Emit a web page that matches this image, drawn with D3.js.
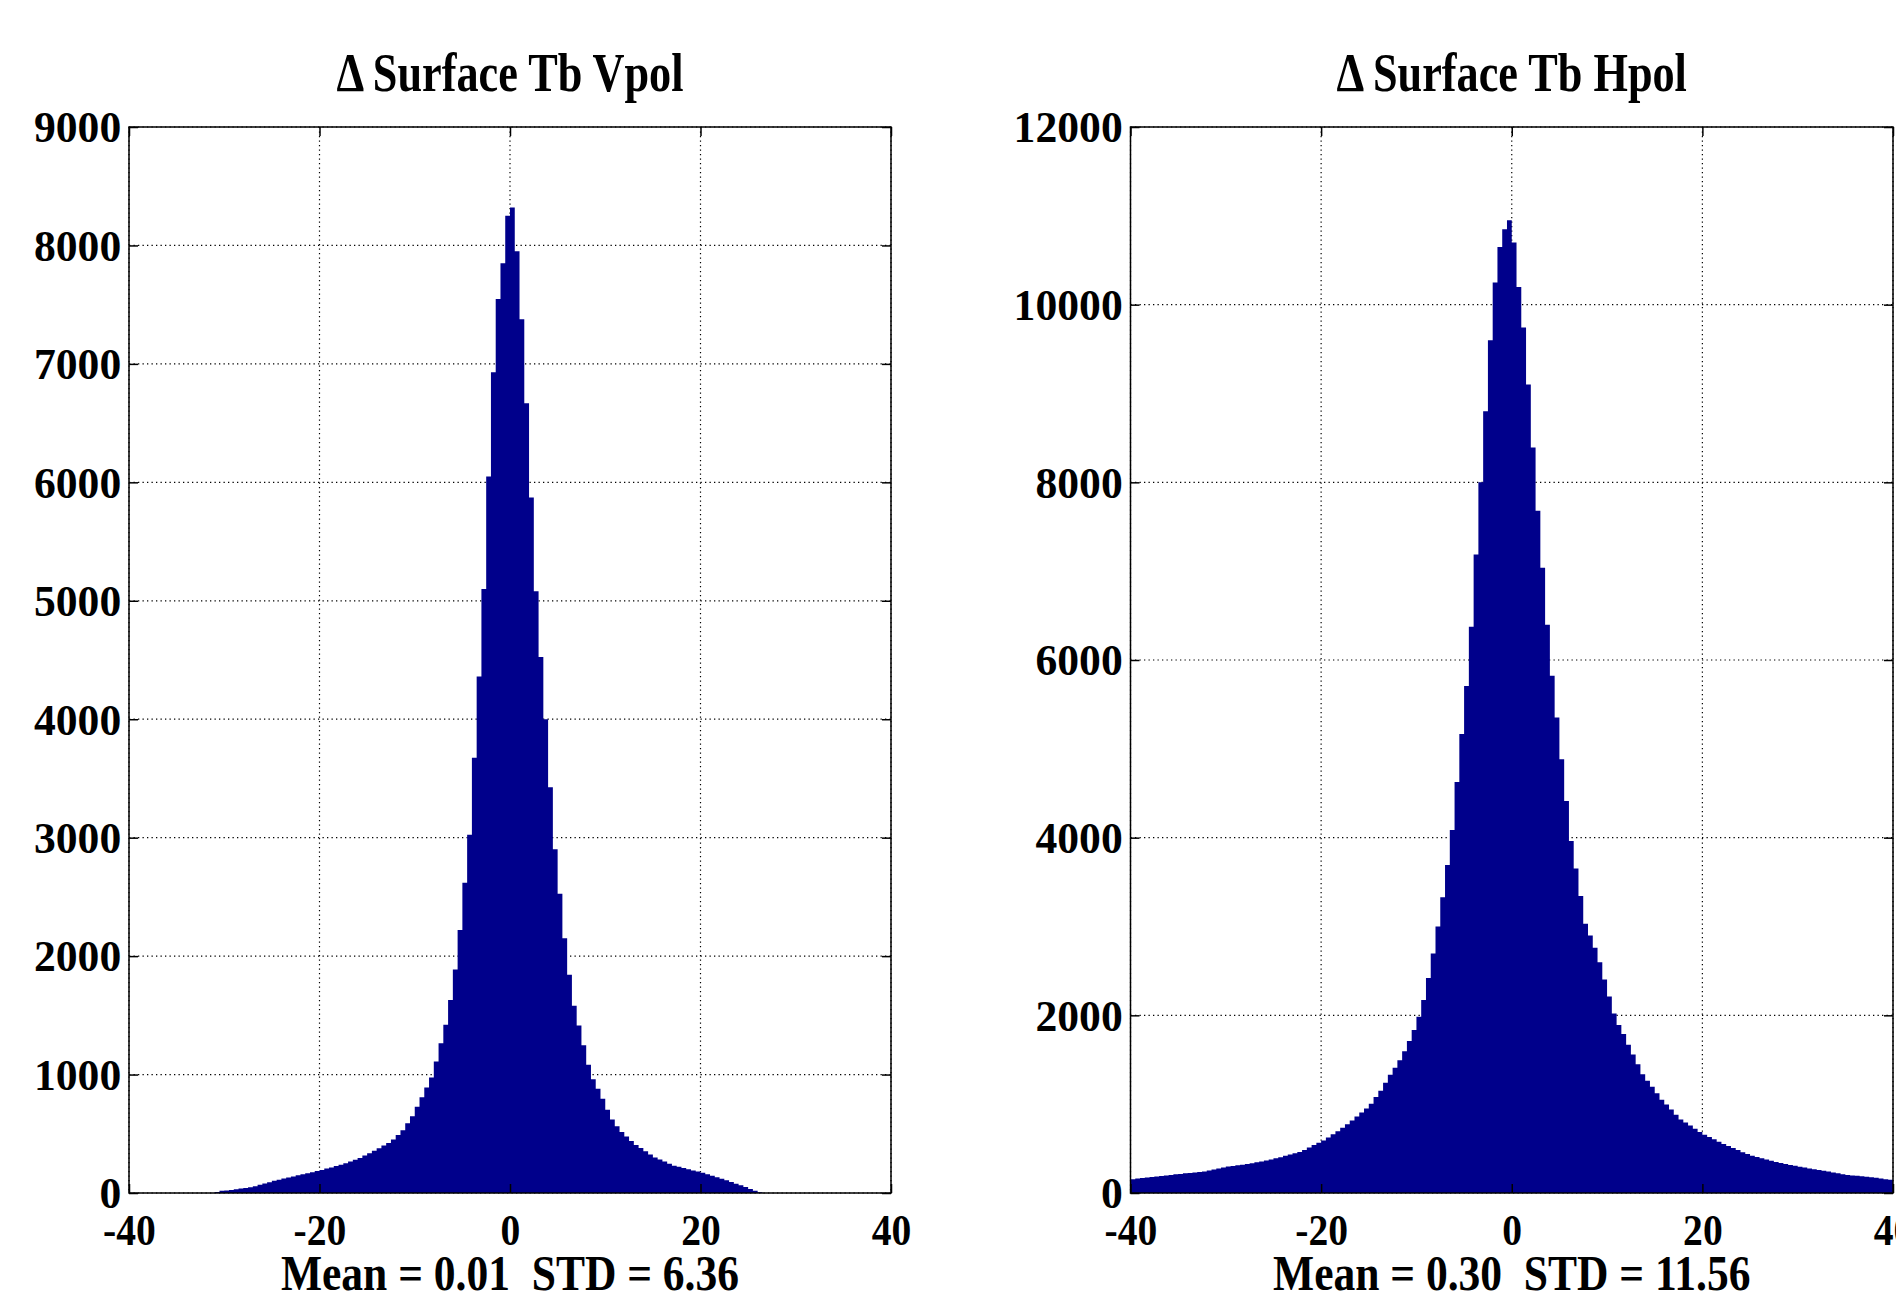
<!DOCTYPE html>
<html>
<head>
<meta charset="utf-8">
<script src="https://cdn.jsdelivr.net/npm/d3@7"></script>
<style>
  html, body { margin: 0; padding: 0; background: #fff; }
  svg { display: block; }
  text { font-family: "Liberation Serif", "Times New Roman", serif; font-weight: bold; fill: #000; white-space: pre; }
</style>
</head>
<body>
<div id="chart"></div>
<script>
// histogram bins, width 0.5
const binWidth = 0.5;

// Vpol: first bin starts at -31, counts up to 26.5, zero elsewhere
const vpolFrom = -31;
const vpolCounts = [
  8, 18, 21, 26, 32, 37, 43, 48, 58, 69,
  80, 91, 103, 112, 122, 131, 140, 149, 158, 167,
  176, 185, 195, 206, 216, 227, 238, 252, 266, 280,
  296, 316, 336, 356, 377, 400, 423, 452, 490, 530,
  588, 648, 728, 808, 890, 975, 1110, 1265, 1420, 1630,
  1887, 2220, 2620, 3025, 3675, 4360, 5100, 6050, 6930, 7548,
  7850, 8250,
  8320, 7950, 7376, 6667, 5873, 5080, 4526, 4000, 3425, 2902,
  2526, 2150, 1842, 1580, 1414, 1248, 1083, 960, 880, 795,
  702, 620, 564, 514, 477, 439, 405, 379, 352, 326,
  300, 283, 265, 248, 231, 221, 211, 201, 191, 181,
  170, 158, 146, 134, 121, 107, 93, 79, 65, 50,
  34, 19, 7
];

// Hpol: bins from -40 to 40
const hpolFrom = -40;
const hpolCounts = [
  156, 162, 168, 174, 180, 186, 192, 198, 204, 210,
  215, 221, 226, 232, 237, 243, 254, 265, 276, 287,
  297, 305, 312, 319, 327, 334, 345, 356, 367, 378,
  390, 403, 418, 432, 448, 462, 485, 512, 540, 565,
  592, 625, 660, 695, 735, 775, 815, 860, 905, 950,
  1005, 1080, 1150, 1240, 1330, 1410, 1495, 1595, 1710, 1835,
  1985, 2172, 2420, 2695, 3000, 3328, 3693, 4086, 4627, 5167,
  5708, 6374, 7187, 8000, 8800, 9600, 10250, 10650, 10850, 10950,
  10700, 10200, 9744, 9100, 8393, 7680, 7038, 6397, 5822, 5352,
  4883, 4413, 3963, 3652, 3342, 3031, 2900, 2760, 2597, 2404,
  2212, 2020, 1890, 1790, 1670, 1560, 1450, 1338, 1265, 1195,
  1122, 1050, 995, 940, 882, 826, 795, 760, 722, 688,
  657, 630, 604, 578, 552, 528, 506, 483, 460, 438,
  420, 406, 391, 377, 362, 349, 338, 327, 316, 306,
  295, 286, 277, 268, 259, 250, 241, 231, 222, 212,
  203, 198, 193, 188, 183, 178, 172, 164, 156, 149
];

const xTicks = [-40, -20, 0, 20, 40];
const vpolYTicks = [0, 1000, 2000, 3000, 4000, 5000, 6000, 7000, 8000, 9000];
const hpolYTicks = [0, 2000, 4000, 6000, 8000, 10000, 12000];

const titles = ['\u0394 Surface Tb Vpol', '\u0394 Surface Tb Hpol'];
const xLabels = ['Mean = 0.01  STD = 6.36', 'Mean = 0.30  STD = 11.56'];

const svgWidth = 1896, svgHeight = 1294;
const plotTop = 127, plotBottom = 1193;
const barColor = '#00008b';

const panels = [
  {from: vpolFrom, counts: vpolCounts, yTicks: vpolYTicks, left: 129, right: 891},
  {from: hpolFrom, counts: hpolCounts, yTicks: hpolYTicks, left: 1130.5, right: 1893}
];

const svg = d3.select('#chart').append('svg')
  .attr('width', svgWidth)
  .attr('height', svgHeight);
svg.append('rect').attr('width', svgWidth).attr('height', svgHeight).attr('fill', '#fff');

panels.forEach((p, k) => {
  let x = d3.scaleLinear().domain([-40, 40]).range([p.left, p.right]);
  let y = d3.scaleLinear().domain([0, d3.max(p.yTicks)]).range([plotBottom, plotTop]);
  let g = svg.append('g');

  // grid
  g.selectAll('line.vgrid').data(xTicks).enter().append('line')
    .attr('x1', d => x(d)).attr('x2', d => x(d))
    .attr('y1', plotTop).attr('y2', plotBottom)
    .attr('stroke', '#000').attr('stroke-width', 1.2)
    .attr('stroke-dasharray', '1.3,3.2');
  g.selectAll('line.hgrid').data(p.yTicks).enter().append('line')
    .attr('x1', p.left).attr('x2', p.right)
    .attr('y1', d => y(d)).attr('y2', d => y(d))
    .attr('stroke', '#000').attr('stroke-width', 1.2)
    .attr('stroke-dasharray', '1.3,3.2');

  // histogram
  let pts = p.counts.map((c, i) => ({x: p.from + i * binWidth, v: c}));
  pts.push({x: p.from + p.counts.length * binWidth, v: p.counts[p.counts.length - 1]});
  let area = d3.area()
    .curve(d3.curveStepAfter)
    .x(d => x(d.x))
    .y0(y(0))
    .y1(d => y(d.v));
  g.append('path')
    .datum(pts)
    .attr('d', area)
    .attr('fill', barColor);

  // axes, ticks pointing inward
  let xAxis = g.append('g')
    .attr('transform', 'translate(0,' + plotBottom + ')')
    .call(d3.axisBottom(x).tickValues(xTicks).tickSize(-9).tickSizeOuter(0).tickPadding(21).tickFormat(d => String(d)));
  g.append('g')
    .attr('transform', 'translate(0,' + plotTop + ')')
    .call(d3.axisTop(x).tickValues(xTicks).tickSize(-9).tickSizeOuter(0).tickFormat(''));
  let yAxis = g.append('g')
    .attr('transform', 'translate(' + p.left + ',0)')
    .call(d3.axisLeft(y).tickValues(p.yTicks).tickSize(-9).tickSizeOuter(0).tickPadding(8).tickFormat(d => String(d)));
  g.append('g')
    .attr('transform', 'translate(' + p.right + ',0)')
    .call(d3.axisRight(y).tickValues(p.yTicks).tickSize(-9).tickSizeOuter(0).tickFormat(''));

  g.selectAll('.domain').remove();
  g.selectAll('.tick line').attr('stroke', '#000').attr('stroke-width', 1.5);
  xAxis.attr('font-family', null).attr('font-size', null);
  yAxis.attr('font-family', null).attr('font-size', null);
  xAxis.selectAll('text')
    .attr('font-size', 44)
    .attr('transform', 'scale(0.9,1)');
  yAxis.selectAll('text')
    .attr('font-size', 45)
    .attr('dy', '0.33em')
    .attr('transform', 'scale(0.97,1)');

  // box
  g.append('rect')
    .attr('x', p.left).attr('y', plotTop)
    .attr('width', p.right - p.left).attr('height', plotBottom - plotTop)
    .attr('fill', 'none').attr('stroke', '#000').attr('stroke-width', 1.5);

  let cx = (p.left + p.right) / 2;
  g.append('text')
    .attr('transform', 'translate(' + cx + ',91) scale(0.82,1)')
    .attr('text-anchor', 'middle')
    .attr('font-size', 54)
    .text(titles[k]);
  g.append('text')
    .attr('transform', 'translate(' + cx + ',1290) scale(0.87,1)')
    .attr('text-anchor', 'middle')
    .attr('font-size', 50)
    .text(xLabels[k]);
});
</script>
</body>
</html>
